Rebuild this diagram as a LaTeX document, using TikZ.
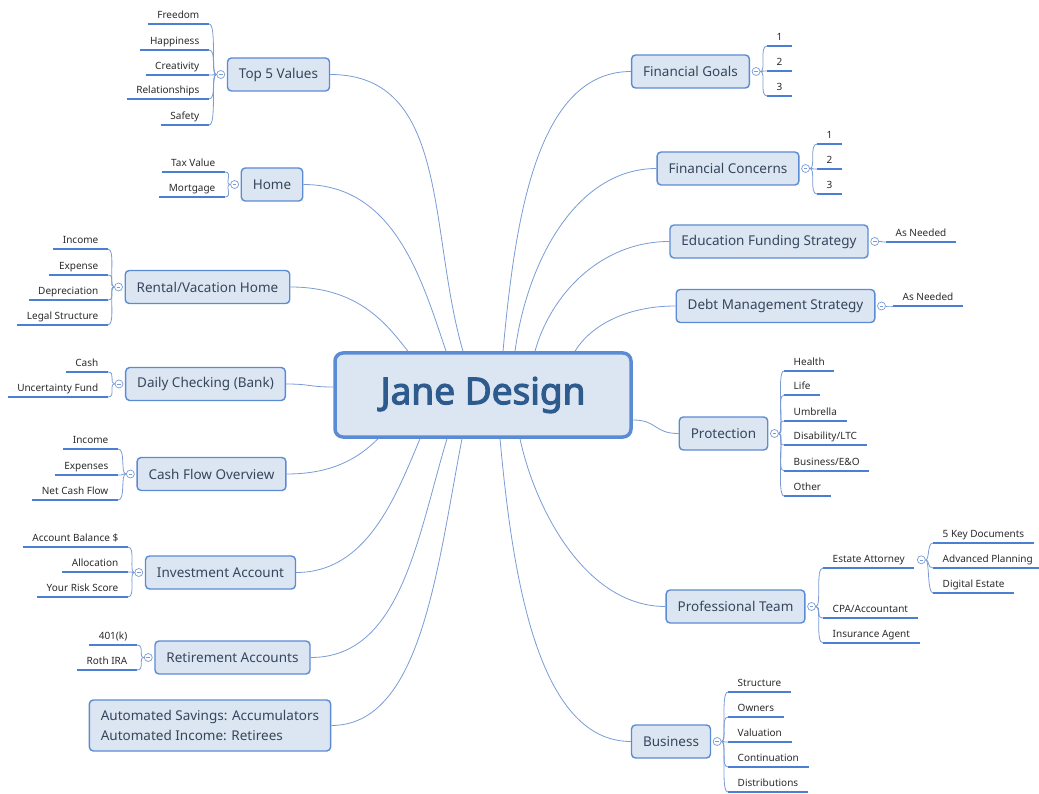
\documentclass[tikz,border=0pt]{standalone}
\usepackage{fontspec}
\setmainfont{Noto Sans}
\newfontfamily\hubfont{Noto Sans}[FakeBold=3]
\usetikzlibrary{calc}

\definecolor{boxfill}{HTML}{DCE6F2}
\definecolor{boxline}{HTML}{5B8BD4}
\definecolor{rulecol}{HTML}{4A7FD4}
\definecolor{spokecol}{HTML}{7A9CD6}
\definecolor{topictext}{HTML}{36465C}
\definecolor{hubtext}{HTML}{2E5B8E}
\definecolor{leaftext}{HTML}{2B2B2B}

\tikzset{
  topic/.style={draw=boxline, line width=1.4pt, fill=boxfill, rounded corners=4pt,
    minimum height=33pt, inner xsep=11.5pt, font=\fontsize{13.5}{16}\selectfont, text=topictext},
  hub/.style={draw=boxline, line width=3.5pt, fill=boxfill, rounded corners=8pt,
    minimum width=296pt, minimum height=84pt, font=\hubfont\fontsize{37}{44}\selectfont, text=hubtext},
  leaf/.style={inner xsep=9.5pt, inner ysep=3pt, text depth=2.5pt, text height=7.5pt,
    font=\fontsize{10}{12}\selectfont, text=leaftext},
  leafline/.style={draw=rulecol, line width=2pt},
  knob/.style={circle, draw=spokecol, line width=0.7pt, fill=white, minimum size=8pt, inner sep=0pt},
  spoke/.style={draw=spokecol, line width=0.8pt},
  twig/.style={draw=spokecol, line width=0.8pt},
}

% leaf with underline: name, x of line end, y of line, text
\newcommand\leafL[4]{\node[leaf,anchor=south east] (#1) at (#2,#3) {#4};
  \draw[leafline] (#1.south west) -- (#1.south east);}
\newcommand\leafR[4]{\node[leaf,anchor=south west] (#1) at (#2,#3) {#4};
  \draw[leafline] (#1.south west) -- (#1.south east);}
% collapse knob beside a topic
\newcommand\knobL[2]{\node[knob] (#1) at ([xshift=-6pt]#2.west) {};
  \draw[spokecol,line width=0.6pt] ([xshift=-1.8pt]#1.center) -- ([xshift=1.8pt]#1.center);}
\newcommand\knobR[3][6pt]{\node[knob] (#2) at ([xshift=#1]#3.east) {};
  \draw[spokecol,line width=0.6pt] ([xshift=-1.8pt]#2.center) -- ([xshift=1.8pt]#2.center);}

\begin{document}
\begin{tikzpicture}[x=1pt,y=-1pt]
\fill[white] (0,0) rectangle (1039,794);
\useasboundingbox (0,0) rectangle (1039,794);

% central topic
\node[hub] (hub) at (483,395) {Jane Design};

% main topics, left
\node[topic] (t5) at (278.5,74.5) {Top 5 Values};
\node[topic] (home) at (272,184.5) {Home};
\node[topic] (rent) at (207.5,287) {Rental/Vacation Home};
\node[topic] (bank) at (205.5,384) {Daily Checking (Bank)};
\node[topic] (flow) at (211.5,474) {Cash Flow Overview};
\node[topic] (invest) at (220.5,572.5) {Investment Account};
\node[topic] (retire) at (232.5,657.5) {Retirement Accounts};
\node[topic, align=left, minimum width=240pt, minimum height=51pt,
  font=\fontsize{13.5}{20}\selectfont] (auto) at (210,725.5)
  {Automated Savings: Accumulators\\Automated Income: Retirees};

% main topics, right
\node[topic] (goals) at (690.5,71.5) {Financial Goals};
\node[topic] (concern) at (728,168.5) {Financial Concerns};
\node[topic] (edu) at (769,241.5) {Education Funding Strategy};
\node[topic] (debt) at (775.5,306) {Debt Management Strategy};
\node[topic] (protect) at (723.5,433.5) {Protection};
\node[topic] (team) at (735.5,606.5) {Professional Team};
\node[topic] (biz) at (671,741.5) {Business};

% spokes from the central topic
\draw[spoke] (t5.east) .. controls +(120,0) and +(-35,-120) .. ([xshift=-20pt]hub.north);
\draw[spoke] (home.east) .. controls +(90,0) and +(-25,-75) .. ([xshift=-37pt]hub.north);
\draw[spoke] (rent.east) .. controls +(70,0) and +(-20,-25) .. ([xshift=-75pt]hub.north);
\draw[spoke] (goals.west) .. controls +(-95,0) and +(12,-130) .. ([xshift=20pt]hub.north);
\draw[spoke] (concern.west) .. controls +(-80,0) and +(12,-90) .. ([xshift=32pt]hub.north);
\draw[spoke] (edu.west) .. controls +(-70,0) and +(15,-55) .. ([xshift=52pt]hub.north);
\draw[spoke] (debt.west) .. controls +(-50,0) and +(15,-25) .. ([xshift=92pt]hub.north);
\draw[spoke] (bank.east) .. controls +(25,0) and +(-25,0) .. ([yshift=8pt]hub.west);
\draw[spoke] (protect.west) .. controls +(-25,0) and +(25,0) .. ([yshift=-25pt]hub.east);
\draw[spoke] (flow.east) .. controls +(45,0) and +(-20,20) .. ([xshift=-105pt]hub.south);
\draw[spoke] (invest.east) .. controls +(70,0) and +(-25,60) .. ([xshift=-63pt]hub.south);
\draw[spoke] (retire.east) .. controls +(90,0) and +(-30,100) .. ([xshift=-36pt]hub.south);
\draw[spoke] (auto.east) .. controls +(90,0) and +(-25,130) .. ([xshift=-21pt]hub.south);
\draw[spoke] (team.west) .. controls +(-80,0) and +(15,70) .. ([xshift=37pt]hub.south);
\draw[spoke] (biz.west) .. controls +(-95,0) and +(12,130) .. ([xshift=17pt]hub.south);

% Top 5 Values
\leafL{t5a}{209}{24}{Freedom}
\leafL{t5b}{209}{50}{Happiness}
\leafL{t5c}{209}{75}{Creativity}
\leafL{t5d}{209}{99}{Relationships}
\leafL{t5e}{209}{125}{Safety}
\knobL{t5k}{t5}
\foreach \n in {t5a,t5b,t5c,t5d,t5e}
  \draw[twig] (t5k.west) .. controls +(-6,0) and +(8,0) .. (\n.south east);

% Home
\leafL{h1}{225}{172}{Tax Value}
\leafL{h2}{225}{197}{Mortgage}
\knobL{hk}{home}
\foreach \n in {h1,h2}
  \draw[twig] (hk.west) .. controls +(-6,0) and +(8,0) .. (\n.south east);

% Rental/Vacation Home
\leafL{r1}{108}{249}{Income}
\leafL{r2}{108}{275}{Expense}
\leafL{r3}{108}{300}{Depreciation}
\leafL{r4}{108}{325}{Legal Structure}
\knobL{rk}{rent}
\foreach \n in {r1,r2,r3,r4}
  \draw[twig] (rk.west) .. controls +(-6,0) and +(8,0) .. (\n.south east);

% Daily Checking
\leafL{d1}{108}{372}{Cash}
\leafL{d2}{108}{397}{Uncertainty Fund}
\knobL{dk}{bank}
\foreach \n in {d1,d2}
  \draw[twig] (dk.west) .. controls +(-6,0) and +(8,0) .. (\n.south east);

% Cash Flow Overview
\leafL{cf1}{118}{449}{Income}
\leafL{cf2}{118}{475}{Expenses}
\leafL{cf3}{118}{500}{Net Cash Flow}
\knobL{cfk}{flow}
\foreach \n in {cf1,cf2,cf3}
  \draw[twig] (cfk.west) .. controls +(-6,0) and +(8,0) .. (\n.south east);

% Investment Account
\leafL{i1}{128}{547}{Account Balance \$}
\leafL{i2}{128}{572}{Allocation}
\leafL{i3}{128}{597}{Your Risk Score}
\knobL{ik}{invest}
\foreach \n in {i1,i2,i3}
  \draw[twig] (ik.west) .. controls +(-6,0) and +(8,0) .. (\n.south east);

% Retirement Accounts
\leafL{ra1}{137}{645}{401(k)}
\leafL{ra2}{137}{670}{Roth IRA}
\knobL{rak}{retire}
\foreach \n in {ra1,ra2}
  \draw[twig] (rak.west) .. controls +(-6,0) and +(8,0) .. (\n.south east);

% Financial Goals
\leafR{fg1}{767}{46}{1}
\leafR{fg2}{767}{71}{2}
\leafR{fg3}{767}{96}{3}
\knobR{fgk}{goals}
\foreach \n in {fg1,fg2,fg3}
  \draw[twig] (fgk.east) .. controls +(6,0) and +(-8,0) .. (\n.south west);

% Financial Concerns
\leafR{fc1}{817}{144}{1}
\leafR{fc2}{817}{169}{2}
\leafR{fc3}{817}{194}{3}
\knobR{fck}{concern}
\foreach \n in {fc1,fc2,fc3}
  \draw[twig] (fck.east) .. controls +(6,0) and +(-8,0) .. (\n.south west);

% Education Funding Strategy
\leafR{ed1}{886}{242}{As Needed}
\knobR{edk}{edu}
\draw[twig] (edk.east) .. controls +(6,0) and +(-8,0) .. (ed1.south west);

% Debt Management Strategy
\leafR{db1}{893}{306}{As Needed}
\knobR{dbk}{debt}
\draw[twig] (dbk.east) .. controls +(6,0) and +(-8,0) .. (db1.south west);

% Protection
\leafR{p1}{784}{371}{Health}
\leafR{p2}{784}{395}{Life}
\leafR{p3}{784}{421}{Umbrella}
\leafR{p4}{784}{445}{Disability/LTC}
\leafR{p5}{784}{471}{Business/E\&O}
\leafR{p6}{784}{496}{Other}
\knobR{pk}{protect}
\foreach \n in {p1,p2,p3,p4,p5,p6}
  \draw[twig] (pk.east) .. controls +(6,0) and +(-8,0) .. (\n.south west);

% Professional Team
\leafR{pt1}{823}{568}{Estate Attorney}
\leafR{pt2}{823}{618}{CPA/Accountant}
\leafR{pt3}{823}{643}{Insurance Agent}
\knobR{ptk}{team}
\foreach \n in {pt1,pt2,pt3}
  \draw[twig] (ptk.east) .. controls +(6,0) and +(-8,0) .. (\n.south west);

% Estate Attorney
\leafR{ea1}{933}{543}{5 Key Documents}
\leafR{ea2}{933}{568}{Advanced Planning}
\leafR{ea3}{933}{593}{Digital Estate}
\knobR[7pt]{eak}{pt1}
\foreach \n in {ea1,ea2,ea3}
  \draw[twig] (eak.east) .. controls +(4,0) and +(-6,0) .. (\n.south west);

% Business
\leafR{b1}{728}{692}{Structure}
\leafR{b2}{728}{717}{Owners}
\leafR{b3}{728}{742}{Valuation}
\leafR{b4}{728}{767}{Continuation}
\leafR{b5}{728}{792}{Distributions}
\knobR{bk}{biz}
\foreach \n in {b1,b2,b3,b4,b5}
  \draw[twig] (bk.east) .. controls +(6,0) and +(-8,0) .. (\n.south west);

\end{tikzpicture}
\end{document}
